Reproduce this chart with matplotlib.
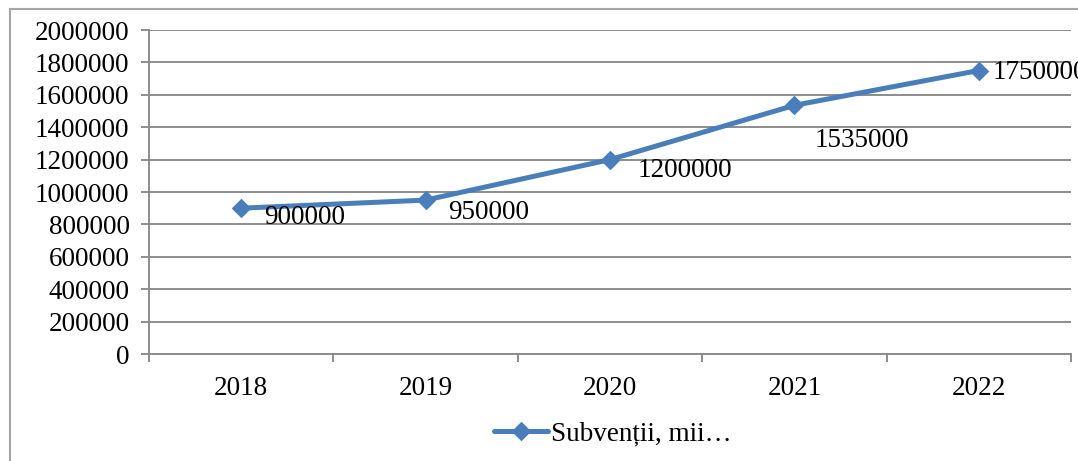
import matplotlib
matplotlib.use("Agg")
import matplotlib.pyplot as plt
from matplotlib.lines import Line2D

years = ["2018", "2019", "2020", "2021", "2022"]
values = [900000, 950000, 1200000, 1535000, 1750000]
series_name = "Subvenții, mii…"
label_offsets = [(23, -9), (23, -12), (28, -11), (20, -35), (14, -2)]

W, H = 1078, 461
DPI = 100
plt.rcParams['font.family'] = ['Liberation Serif', 'DejaVu Serif']
FS = 19.5
BLUE = '#4a7ebb'
GRID = '#8c8c8c'

fig = plt.figure(figsize=(W / DPI, H / DPI), dpi=DPI)
ax = fig.add_axes([149 / W, 1 - 354 / H, (1071 - 149) / W, (354 - 30) / H])

x = list(range(len(years)))
ax.plot(x, values, color=BLUE, lw=3.6, marker='D', ms=9.5, mew=0.8,
        mec=BLUE, mfc=BLUE, solid_capstyle='round', zorder=3, label=series_name)

for xi, v, (dx, dy) in zip(x, values, label_offsets):
    ax.annotate(f"{v}", (xi, v), xytext=(dx, dy), textcoords='offset pixels',
                ha='left', va='center', fontsize=FS, color='black',
                annotation_clip=False, zorder=4)

ax.set_xlim(-0.5, len(years) - 0.5)
ax.set_ylim(0, 2000000)
ax.set_yticks(range(0, 2000001, 200000))
ax.set_yticklabels([str(v) for v in range(0, 2000001, 200000)])
ax.set_xticks(x)
ax.set_xticklabels(years)
ax.set_xticks([i - 0.5 for i in range(len(years) + 1)], minor=True)

ax.grid(axis='y', color=GRID, lw=1.4)
ax.set_axisbelow(True)
for s in ['top', 'right']:
    ax.spines[s].set_visible(False)
for s in ['left', 'bottom']:
    ax.spines[s].set_color(GRID)
    ax.spines[s].set_linewidth(1.4)

ax.tick_params(axis='y', length=6, width=1.4, color=GRID, labelsize=FS, pad=8)
ax.tick_params(axis='x', which='major', length=0, labelsize=FS, pad=16)
ax.tick_params(axis='x', which='minor', length=6, width=1.4, color=GRID)

fig.legend(loc='center', bbox_to_anchor=(613 / W, 1 - 434 / H), frameon=False,
           fontsize=FS, handlelength=2.0, handletextpad=0.1, borderaxespad=0)

# outer chart border (left and top visible)
fig.add_artist(Line2D([9.5 / W, 9.5 / W], [0, 1 - 9.5 / H], transform=fig.transFigure,
                      color='#a6a6a6', lw=1.5))
fig.add_artist(Line2D([9.5 / W, 1.0], [1 - 9.5 / H, 1 - 9.5 / H], transform=fig.transFigure,
                      color='#a6a6a6', lw=1.5))

fig.savefig("out.png", dpi=DPI)
